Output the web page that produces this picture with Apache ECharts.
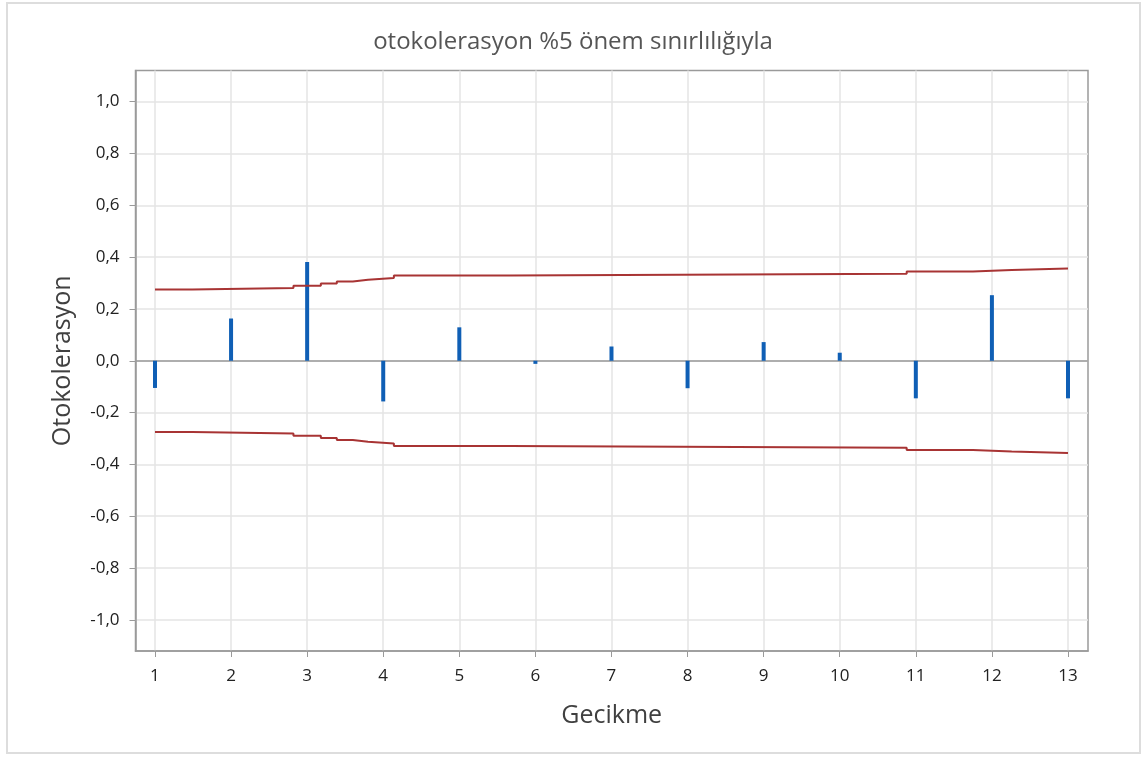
<!DOCTYPE html>
<html>
<head>
<meta charset="utf-8">
<script src="https://cdn.jsdelivr.net/npm/echarts@6/dist/echarts.min.js"></script>
<style>
  html, body { margin: 0; padding: 0; background: #ffffff; }
  #chart { width: 1146px; height: 758px; }
</style>
</head>
<body>
<div id="chart"></div>
<script>
// Lags and their autocorrelation values
var lags = [1, 2, 3, 4, 5, 6, 7, 8, 9, 10, 11, 12, 13];
var acf = [-0.105, 0.163, 0.381, -0.157, 0.129, -0.012, 0.055, -0.106, 0.072, 0.031, -0.145, 0.253, -0.145];

// 5% significance limit (upper), drawn as a staircase: break positions and levels
var limitX = [1, 1.49, 2.82, 3.18, 3.39, 3.60, 3.80, 4.14, 5.66, 10.88, 11.75, 12.26, 13];
var limitUpper = [0.275, 0.281, 0.289, 0.298, 0.306, 0.313, 0.319, 0.329, 0.336, 0.344, 0.350, 0.356, 0.356];

// Axis ticks
var xTicks = [1, 2, 3, 4, 5, 6, 7, 8, 9, 10, 11, 12, 13];
var yTicks = [-1.0, -0.8, -0.6, -0.4, -0.2, 0.0, 0.2, 0.4, 0.6, 0.8, 1.0];

var FONT = '"Open Sans", "Noto Sans", sans-serif';
var LIMIT_COLOR = '#a83434';
var BAR_COLOR = '#0f5fb5';

var barData = lags.map(function (l, i) { return [l, acf[i]]; });
var upperData = limitX.map(function (x, i) { return [x, limitUpper[i]]; });
var lowerData = limitX.map(function (x, i) { return [x, -limitUpper[i]]; });

function fmt(v) {
  return (Math.abs(v) < 1e-9 ? 0 : v).toFixed(1).replace('.', ',');
}

var chart = echarts.init(document.getElementById('chart'), null, { renderer: 'canvas' });

chart.setOption({
  backgroundColor: '#ffffff',
  animation: false,
  title: {
    text: 'otokolerasyon %5 önem sınırlılığıyla',
    left: 'center',
    top: 25,
    textStyle: { fontFamily: FONT, fontSize: 24, fontWeight: 'normal', color: '#555555' }
  },
  graphic: [{
    type: 'rect',
    shape: { x: 7, y: 3, width: 1133, height: 750 },
    style: { fill: 'none', stroke: '#dddddd', lineWidth: 2 },
    silent: true,
    z: -1
  }],
  grid: {
    left: 135.5,
    top: 70.5,
    width: 952.5,
    height: 580.5,
    show: true,
    borderColor: '#9a9a9a',
    borderWidth: 1.5,
    backgroundColor: 'transparent'
  },
  xAxis: {
    type: 'value',
    min: 0.744,
    max: 13.263,
    name: 'Gecikme',
    nameLocation: 'middle',
    nameGap: 52,
    nameTextStyle: { fontFamily: FONT, fontSize: 25, color: '#404040' },
    axisLine: { show: true, onZero: false, lineStyle: { color: '#9a9a9a', width: 1.5 } },
    axisTick: { show: true, length: 6, customValues: xTicks, lineStyle: { color: '#9a9a9a', width: 1 } },
    axisLabel: {
      customValues: xTicks,
      margin: 17,
      fontFamily: FONT, fontSize: 17, color: '#222222',
      formatter: function (v) { return String(v); }
    },
    splitLine: { show: true, lineStyle: { color: '#e4e4e4', width: 1.5 } }
  },
  yAxis: {
    type: 'value',
    min: -1.12,
    max: 1.12,
    name: 'Otokolerasyon',
    nameLocation: 'middle',
    nameGap: 60,
    nameRotate: 90,
    nameTextStyle: { fontFamily: FONT, fontSize: 25, color: '#404040' },
    axisLine: { show: true, onZero: false, lineStyle: { color: '#9a9a9a', width: 1.5 } },
    axisTick: { show: true, length: 6, customValues: yTicks, lineStyle: { color: '#9a9a9a', width: 1 } },
    axisLabel: {
      customValues: yTicks,
      margin: 16,
      fontFamily: FONT, fontSize: 17, color: '#222222',
      formatter: fmt
    },
    splitLine: { show: true, lineStyle: { color: '#e4e4e4', width: 1.5 } }
  },
  series: [
    {
      name: 'ACF',
      type: 'bar',
      data: barData,
      barWidth: 4,
      itemStyle: { color: BAR_COLOR },
      z: 3,
      markLine: {
        silent: true,
        symbol: 'none',
        label: { show: false },
        lineStyle: { color: '#9a9a9a', width: 1.5, type: 'solid' },
        data: [{ yAxis: 0 }],
        z: 2
      }
    },
    {
      name: 'Üst sınır',
      type: 'line',
      data: upperData,
      step: 'end',
      symbol: 'none',
      lineStyle: { color: LIMIT_COLOR, width: 2 },
      z: 4
    },
    {
      name: 'Alt sınır',
      type: 'line',
      data: lowerData,
      step: 'end',
      symbol: 'none',
      lineStyle: { color: LIMIT_COLOR, width: 2 },
      z: 4
    }
  ]
});
</script>
</body>
</html>
